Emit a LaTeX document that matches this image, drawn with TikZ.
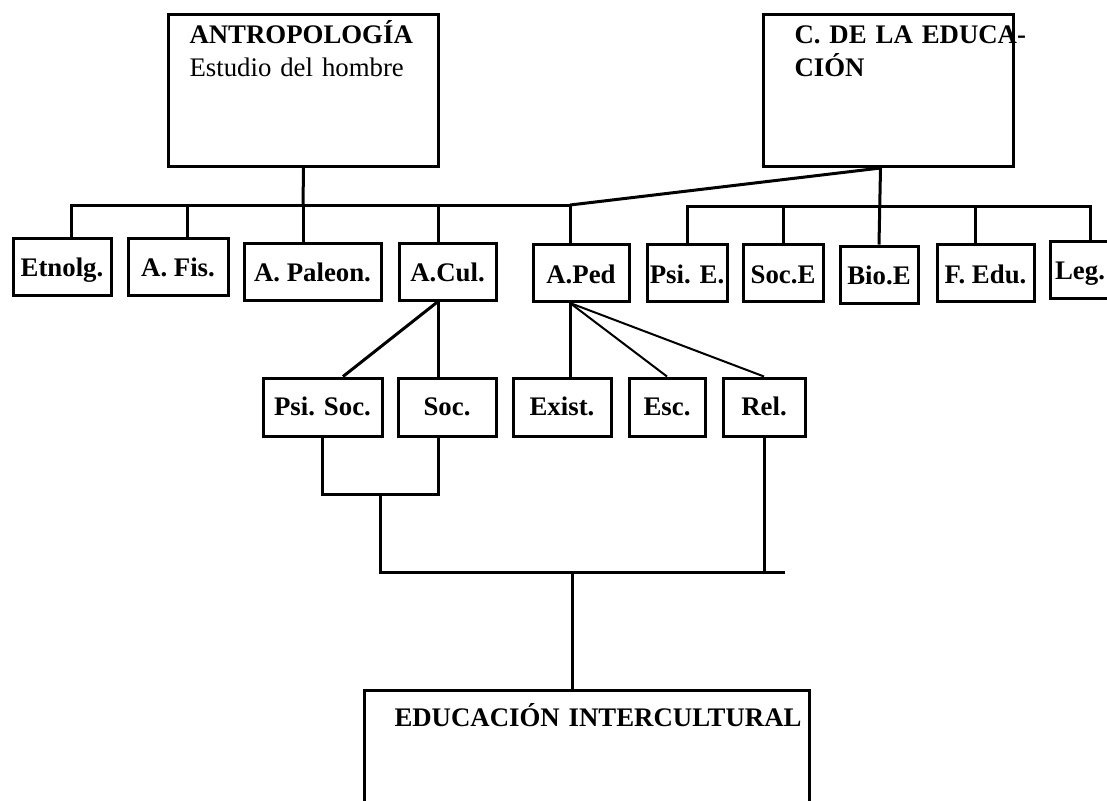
\documentclass[tikz,border=0pt]{standalone}
\usepackage{fontspec}
\setmainfont{Liberation Serif}
\usetikzlibrary{positioning}
\tikzset{
  basic/.style  = {draw, line width=1.5pt, rectangle, inner sep=0pt,
                   font=\fontsize{13.4}{16.5}\selectfont\bfseries},
  area/.style   = {basic, anchor=north west, align=left,
                   text height=14.5pt, text depth=61.5pt},
  row 1/.style  = {basic, minimum height=28.5pt, text height=12pt, text depth=2pt},
  row 2/.style  = {basic, minimum height=29pt, text height=10pt, text depth=2pt},
  link/.style   = {line width=1.5pt},
  thin link/.style = {line width=1pt}
}

\begin{document}
\begin{tikzpicture}[x=0.5pt, y=-0.5pt]
\useasboundingbox (0,0) rectangle (1107,800);

% the two sources at the top
\node[area, inner xsep=10.5pt, text width=114pt] (t1) at (167,13)
  {ANTROPOLOGÍA\\{\mdseries Estudio del hombre}};
\node[area, inner xsep=15.5pt, text width=94pt] (t2) at (762,13)
  {\mbox{C. DE LA EDUCA-}\\CIÓN};

% The first level, one box per branch
\node[row 1, minimum width=49pt]   (c1)  at (62,266.5)   {Etnolg.};
\node[row 1, minimum width=50pt]   (c2)  at (178,266.5)  {A. Fis.};
\node[row 1, minimum width=68.5pt] (c3)  at (312.5,271.5) {A. Paleon.};
\node[row 1, minimum width=48.5pt] (c4)  at (447.5,271.5) {A.Cul.};
\node[row 1, minimum width=48pt]   (c5)  at (581,273)    {A.Ped};
\node[row 1, minimum width=40pt]   (c6)  at (687,273)    {Psi. E.};
\node[row 1, minimum width=40pt]   (c7)  at (783,273)    {Soc.E};
\node[row 1, minimum width=39pt]   (c8)  at (879,274.5)  {Bio.E};
\node[row 1, minimum width=48.5pt] (c9)  at (985.5,273)  {F. Edu.};
\node[row 1, minimum width=30pt]   (c10) at (1080,269.5) {Leg.};

% The second level, under A.Cul and A.Ped
\node[row 2, minimum width=59.5pt] (c41) at (322.5,407) {Psi. Soc.};
\node[row 2, minimum width=49pt]   (c42) at (447,407)   {Soc.};
\node[row 2, minimum width=49pt]   (c51) at (562,407)   {Exist.};
\node[row 2, minimum width=38pt]   (c52) at (667,407)   {Esc.};
\node[row 2, minimum width=41pt]   (c53) at (764,407)   {Rel.};

% the result
\node[basic, anchor=north west, align=left, inner xsep=15pt, text width=192.5pt,
      text height=18pt, text depth=40pt] (e) at (363,689)
  {\mbox{EDUCACIÓN INTERCULTURAL}};

% points where the lines meet the boxes
\coordinate (bl) at (303,205);
\coordinate (br) at (879,206);
\coordinate (c1t) at ([xshift=4.5pt]c1.north);
\coordinate (c2t) at ([xshift=4.5pt]c2.north);
\coordinate (c3t) at ([xshift=-4.75pt]c3.north);
\coordinate (c4t) at ([xshift=-4.75pt]c4.north);
\coordinate (c4b) at ([xshift=-4.75pt]c4.south);
\coordinate (c5t) at ([xshift=-5.5pt]c5.north);
\coordinate (c5b) at ([xshift=-5.5pt]c5.south);
\coordinate (c9t) at ([xshift=-5.25pt]c9.north);
\coordinate (c10t) at ([xshift=5pt]c10.north);
\coordinate (t2b) at ([xshift=-4pt]t2.south);
\coordinate (c41t) at ([xshift=10.25pt]c41.north);
\coordinate (c42t) at ([xshift=-4.5pt]c42.north);
\coordinate (c42b) at ([xshift=-4.5pt]c42.south);
\coordinate (c51t) at ([xshift=4pt]c51.north);
\coordinate (et) at ([xshift=-7.25pt]e.north);
\coordinate (j1) at (380,494);
\coordinate (j2) at (785,572);

% lines from the sources to the first level
\draw[link] (t1.south) -- (bl);
\draw[link] (c1t) |- (c5t |- bl) -- (c5t);
\foreach \value in {2,3,4}
  \draw[link] (c\value t) -- (c\value t |- bl);
\draw[link] (t2b) -- (c5t |- bl);
\draw[link] (t2b) -- (c8.north);
\draw[link] (c6.north) |- (c10t |- br) -- (c10t);
\draw[link] (c7.north) -- (c7.north |- br);
\draw[link] (c9t) -- (c9t |- br);

% first level to second level
\draw[link] (c4b) -- (c41t);
\draw[link] (c4b) -- (c42t);
\draw[link] (c5b) -- (c51t);
\draw[thin link] (c5b) -- (c52.north);
\draw[thin link] (c5b) -- (c53.north);

% down to the result
\draw[link] (c41.south) |- (c42b |- j1) -- (c42b);
\draw[link] (j1) |- (j2);
\draw[link] (c53.south) -- (c53.south |- j2);
\draw[link] (et) -- (et |- j2);

\end{tikzpicture}
\end{document}
